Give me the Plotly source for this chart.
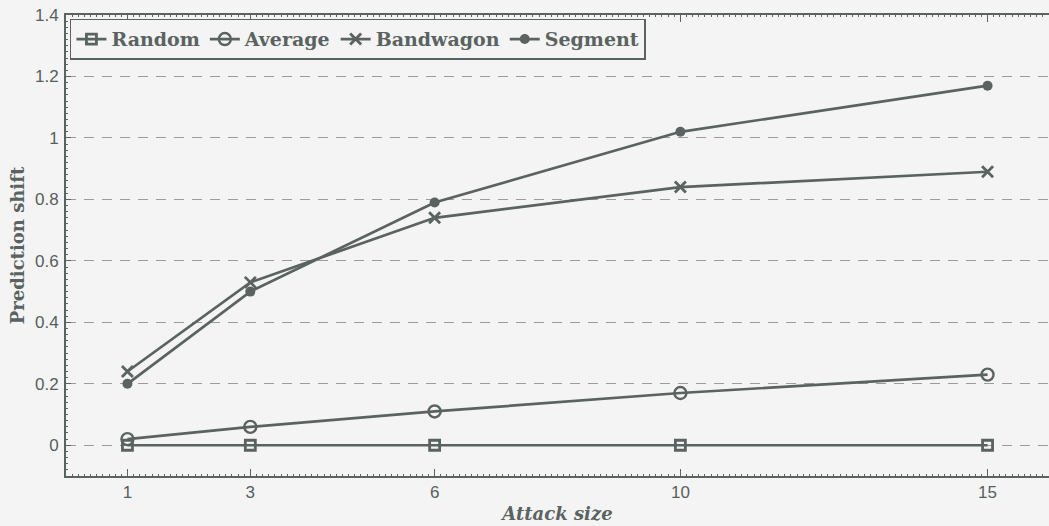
import plotly.graph_objects as go

attack_size = [1, 3, 6, 10, 15]
random_shift = [0.0, 0.0, 0.0, 0.0, 0.0]
average_shift = [0.02, 0.06, 0.11, 0.17, 0.23]
bandwagon_shift = [0.24, 0.53, 0.74, 0.84, 0.89]
segment_shift = [0.20, 0.50, 0.79, 1.02, 1.17]
y_ticks = [0, 0.2, 0.4, 0.6, 0.8, 1.0, 1.2, 1.4]

LINE = "#5a6361"
BG = "#f4f4f4"
GRID = "#9c9c9c"

series = [
    ("Random", random_shift, dict(symbol="square-open", size=10, line=dict(width=2.8, color=LINE))),
    ("Average", average_shift, dict(symbol="circle-open", size=12, line=dict(width=2.4, color=LINE))),
    ("Bandwagon", bandwagon_shift, dict(symbol="x-thin", size=11, line=dict(width=2.8, color=LINE))),
    ("Segment", segment_shift, dict(symbol="circle", size=10, line=dict(width=0, color=LINE))),
]

fig = go.Figure()
for name, vals, mk in series:
    fig.add_trace(go.Scatter(
        x=attack_size, y=vals, name=name, mode="lines+markers",
        line=dict(color=LINE, width=2.7),
        marker=dict(color=LINE, **mk),
    ))

fig.update_layout(
    width=1049, height=526,
    margin=dict(l=66, r=0, t=15, b=50),
    paper_bgcolor=BG, plot_bgcolor=BG,
    font=dict(family="Liberation Sans, Arial", size=17, color="#565f5d"),
    showlegend=True,
    legend=dict(
        orientation="h", x=0.004, y=0.992, xanchor="left", yanchor="top",
        bgcolor=BG, bordercolor=LINE, borderwidth=1.5,
        font=dict(family="DejaVu Serif", size=19, color=LINE, weight="bold"),
        itemwidth=30, tracegroupgap=0,
    ),
    xaxis=dict(
        range=[0, 16], tickvals=attack_size, ticktext=[str(v) for v in attack_size],
        showgrid=False, zeroline=False,
        showline=True, linecolor=LINE, linewidth=2, mirror="ticks",
        ticks="inside", ticklen=7, tickcolor=LINE, tickwidth=1,
        minor=dict(dtick=0.1, ticks="inside", ticklen=2, tickcolor=LINE, tickwidth=1),
        title=dict(text="<b><i>Attack size</i></b>", standoff=6,
                   font=dict(family="DejaVu Serif", size=18, color=LINE)),
    ),
    yaxis=dict(
        range=[-0.1, 1.4], tickvals=y_ticks, ticktext=["0", "0.2", "0.4", "0.6", "0.8", "1", "1.2", "1.4"],
        showgrid=True, gridcolor=GRID, gridwidth=1.2, griddash="10px,8px",
        zeroline=False,
        showline=True, linecolor=LINE, linewidth=2,
        ticks="inside", ticklen=5, tickcolor=LINE, tickwidth=1,
        minor=dict(dtick=0.02, ticks="inside", ticklen=2, tickcolor=LINE, tickwidth=1, showgrid=False),
        ticklabelstandoff=2,
        title=dict(text="<b>Prediction shift</b>", standoff=6,
                   font=dict(family="DejaVu Serif", size=18, color=LINE)),
    ),
)

fig.write_html("out.html")
